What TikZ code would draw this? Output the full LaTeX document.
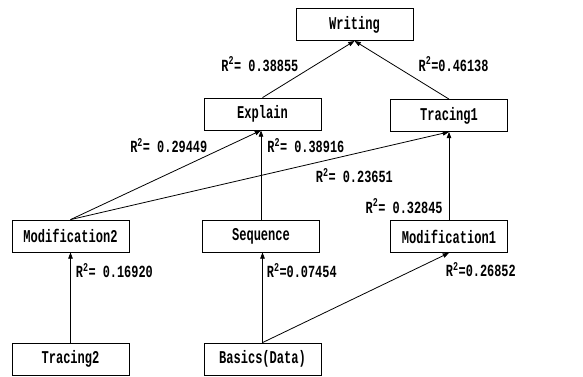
\documentclass[tikz,border=0pt]{standalone}
\usepackage{fontspec}
\newfontfamily\kotakfont[FakeStretch=0.67]{Liberation Mono}
\newfontfamily\rsqfont[FakeStretch=0.70]{Liberation Mono}
\usetikzlibrary{arrows.meta, positioning}

\begin{document}
\begin{tikzpicture}[
    x=1pt, y=-1pt,
    font=\kotakfont\bfseries\fontsize{18}{18}\selectfont,
    kotak/.style={draw, line width=0.8pt, minimum width=117pt, minimum height=32pt,
                  inner sep=0pt},
    panah/.style={-{Triangle[length=2.2mm, width=1.6mm]}, line width=0.8pt},
    rsq/.style={inner sep=0pt, font=\rsqfont\bfseries\fontsize{17}{17}\selectfont}
  ]
    \useasboundingbox (0,0) rectangle (583,376);
    \node[kotak] (writing) at (354.5,24.5) {Writing};
    \node[kotak] (explain) at (262.5,114) {Explain};
    \node[kotak] (tracing1) at (449,115.5) {Tracing1};
    \node[kotak] (mod2) at (70.5,236) {Modification2};
    \node[kotak] (sequence) at (261,236) {Sequence};
    \node[kotak] (mod1) at (449,236.5) {Modification1};
    \node[kotak] (tracing2) at (70.5,359) {Tracing2};
    \node[kotak] (basics) at (262.5,359) {Basics(Data)};
    % ke atas
    \draw[panah] (explain.north) -- node[rsq, pos=.59, left=18pt] {R\textsuperscript{2}= 0.38855} (writing.south);
    \draw[panah] (tracing1.north) -- node[rsq, pos=.6, right=26pt] {R\textsuperscript{2}=0.46138} (writing.south);
    \draw[panah] (mod2.north) -- node[rsq, pos=.83, left=21pt] {R\textsuperscript{2}= 0.29449} (sequence |- explain.south);
    \draw[panah] (sequence.north) -- node[rsq, pos=.83, right=6pt] {R\textsuperscript{2}= 0.38916} (sequence |- explain.south);
    \draw[panah] (mod2.north) -- node[rsq, pos=.75, below=14pt] {R\textsuperscript{2}= 0.23651} (tracing1.south);
    \draw[panah] (mod1.north) -- node[rsq, pos=.16, left=6pt] {R\textsuperscript{2}= 0.32845} (tracing1.south);
    \draw[panah] (tracing2.north) -- node[rsq, pos=.8, right=5pt] {R\textsuperscript{2}= 0.16920} (mod2.south);
    \draw[panah] (basics.north) -- node[rsq, pos=.8, right=4pt] {R\textsuperscript{2}=0.07454} (basics |- sequence.south);
    \draw[panah] (basics.north) -- node[rsq, pos=.81, right=32pt] {R\textsuperscript{2}=0.26852} (mod1.south);
  \end{tikzpicture}
\end{document}
